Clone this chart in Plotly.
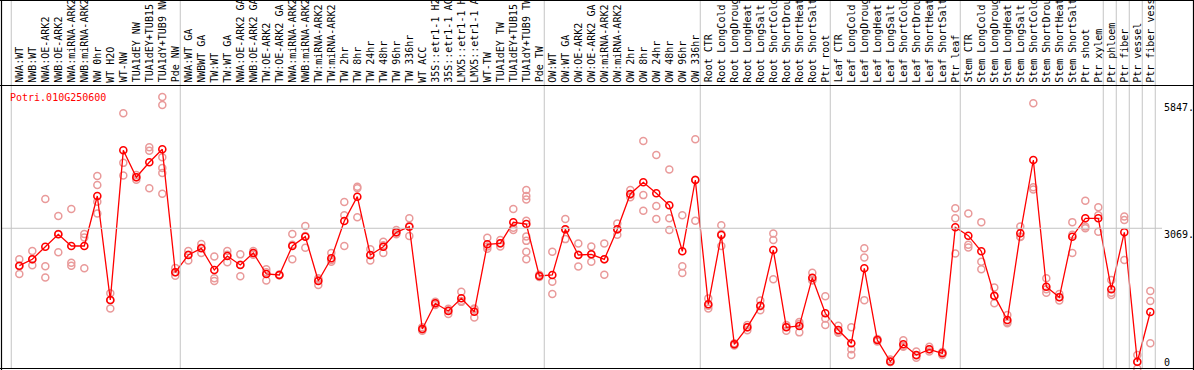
import plotly.graph_objects as go

# ---------------- data ----------------
gene_id = "Potri.010G250600"

categories = [
    "NWA:WT", "NWB:WT", "NWA:OE-ARK2", "NWB:OE-ARK2", "NWA:miRNA-ARK2", "NWB:miRNA-ARK2",
    "NW 0hr", "WT H2O", "WT-NW", "TUA1dEY NW", "TUA1dEY+TUB15 NW", "TUA1dY+TUB9 NW", "Pde NW",
    "NWA:WT GA", "NWBWT GA", "TW:WT", "TW:WT GA", "NWA:OE-ARK2 GA", "NWB:OE-ARK2 GA",
    "TW:OE-ARK2", "TW:OE-ARK2 GA", "NWA:miRNA-ARK2 GA", "NWB:miRNA-ARK2 GA", "TW:miRNA-ARK2",
    "TW:miRNA-ARK2 GA", "TW 2hr", "TW 8hr", "TW 24hr", "TW 48hr", "TW 96hr", "TW 336hr",
    "WT ACC", "35S::etr1-1 H2O", "35S::etr1-1 ACC", "LMX5::etr1-1 H2O", "LMX5::etr1-1 ACC",
    "WT-TW", "TUA1dEY TW", "TUA1dEY+TUB15 TW", "TUA1dY+TUB9 TW", "Pde TW",
    "OW:WT", "OW:WT GA", "OW:OE-ARK2", "OW:OE-ARK2 GA", "OW:miRNA-ARK2", "OW:miRNA-ARK2 GA",
    "OW 2hr", "OW 8hr", "OW 24hr", "OW 48hr", "OW 96hr", "OW 336hr",
    "Root CTR", "Root LongCold", "Root LongDrought", "Root LongHeat", "Root LongSalt",
    "Root ShortCold", "Root ShortDrought", "Root ShortHeat", "Root ShortSalt", "Ptr root",
    "Leaf CTR", "Leaf LongCold", "Leaf LongDrought", "Leaf LongHeat", "Leaf LongSalt",
    "Leaf ShortCold", "Leaf ShortDrought", "Leaf ShortHeat", "Leaf ShortSalt", "Ptr leaf",
    "Stem CTR", "Stem LongCold", "Stem LongDrought", "Stem LongHeat", "Stem LongSalt",
    "Stem ShortCold", "Stem ShortDrought", "Stem ShortHeat", "Stem ShortSalt", "Ptr shoot",
    "Ptr xylem", "Ptr phloem", "Ptr fiber", "Ptr vessel", "Ptr fiber vessel",
]

group_sizes = [13, 28, 12, 10, 10, 11, 1, 1, 1, 1]

mean_values = [
    2210, 2357, 2646, 2931, 2662, 2662, 3810, 1423, 4858, 4239, 4583, 4881, 2059,
    2456, 2609, 2111, 2433, 2226, 2502, 2020, 1997, 2662, 2876, 1859, 2380, 3236, 3794,
    2456, 2646, 2977, 3105, 757, 1347, 1170, 1462, 1154, 2701, 2724, 3206, 3167, 1974,
    1997, 3045, 2456, 2472, 2357, 3045, 3856, 4124, 3872, 3596, 2541, 4177,
    1324, 2915, 406, 796, 1292, 2570, 796, 826, 1935, 1118,
    734, 429, 2150, 505, 10, 406, 161, 291, 200, 3091,
    2899, 2541, 1522, 964, 2954, 4636, 1728, 1485, 2876, 3298, 3298,
    1668, 2977, 5, 1148,
]

replicates = [
    [2360, 2200, 2020], [2550, 2360, 2220], [3740, 2200, 1940], [3350, 2940, 2520],
    [3510, 2280, 2210], [2940, 2860, 2150], [4270, 4060, 3680, 3410], [1580, 1420, 1230],
    [5710, 4570, 4280], [4290, 4240, 4180], [4930, 4850, 3990],
    [6080, 5900, 4700, 4450, 4340, 3860], [2160, 2060, 1980],
    [2550, 2460, 2330], [2710, 2620, 2500], [2420, 1920, 1860], [2550, 2460, 2290],
    [2470, 2230, 1970], [2550, 2500, 2460], [2130, 2060, 1870], [2010, 1990, 1990],
    [2940, 2690, 2360], [3120, 2890, 2620], [1920, 1890, 1770], [2500, 2340, 2300],
    [3670, 3370, 2660], [4020, 3990, 3320], [2590, 2450, 2330], [2760, 2680, 2500],
    [3030, 2970, 2930], [3300, 3120, 2890], [800, 750, 720], [1380, 1350, 1310],
    [1220, 1190, 1100], [1610, 1400, 1380], [1230, 1210, 1020], [2850, 2650, 2600],
    [2800, 2720, 2650], [3510, 3080, 3030],
    [3950, 3810, 3730, 3240, 2880, 2780, 2530, 2360], [2000, 1970, 1950],
    [2530, 1840, 1560], [3280, 3040, 2820], [2720, 2460, 2190], [2650, 2470, 2300],
    [2720, 2360, 2000], [3180, 3040, 2920], [3950, 3840, 3780], [5070, 3830, 3470],
    [4750, 3580, 3280], [4420, 3300, 3030], [3370, 2200, 2040], [5110, 4180, 3240],
    [1460, 1290, 1230], [3140, 2940, 2660], [430, 400, 380], [850, 800, 730],
    [1410, 1280, 1190], [2950, 2800, 1900], [850, 810, 720], [920, 870, 680],
    [2050, 1880, 1870], [1510, 1000, 850],
    [830, 700, 670], [800, 290, 160], [2610, 2400, 1420], [530, 510, 470],
    [60, 0, 0], [500, 370, 350], [240, 150, 100], [350, 290, 240], [230, 210, 160],
    [3530, 3300, 2490],
    [3410, 2690, 2630], [3210, 2300, 2130], [1710, 1510, 1350], [1080, 920, 890],
    [3110, 2880, 2870], [5940, 4010, 3960], [1920, 1670, 1590], [1560, 1490, 1410],
    [3210, 2920, 2500], [3700, 3110, 3070], [3550, 3370, 2990],
    [1880, 1590, 1540], [3340, 3260, 2340], [160, 0, -150], [1630, 1400, 430],
]

y_tick_values = [0, 3069, 5847]
y_tick_labels = ["0", "3069.", "5847."]

# ---------------- styling / layout ----------------
W, H = 1194, 370
FONT = "DejaVu Sans Mono"
RED = "#FF0000"
PINK = "#E99A9A"
GRID = "#C4C4C4"


def px(xp):
    return xp / W


def py(yp):
    return 1 - yp / H


rep_x, rep_y = [], []
for cat, reps in zip(categories, replicates):
    for v in reps:
        rep_x.append(cat)
        rep_y.append(v)

fig = go.Figure()
fig.add_trace(go.Scatter(
    x=rep_x, y=rep_y, mode="markers",
    marker=dict(symbol="circle-open", size=7, color=PINK, line=dict(width=1.5, color=PINK)),
    hoverinfo="skip", showlegend=False,
))
fig.add_trace(go.Scatter(
    x=categories, y=mean_values, mode="lines+markers",
    line=dict(color=RED, width=1.3),
    marker=dict(symbol="circle-open", size=7, color=RED, line=dict(width=1.6, color=RED)),
    showlegend=False,
))

shapes = []
# group separator lines (vertical, light gray)
pos = -1
bounds = [pos]
for g in group_sizes:
    pos += g
    bounds.append(pos)
for b in bounds:
    xb = b + 0.38
    shapes.append(dict(type="line", xref="x", yref="paper", x0=xb, x1=xb,
                       y0=py(368), y1=1, line=dict(color=GRID, width=1)))
# horizontal gridline at middle tick
shapes.append(dict(type="line", xref="paper", yref="y", x0=px(2), x1=px(1162),
                   y0=y_tick_values[1], y1=y_tick_values[1], line=dict(color=GRID, width=1)))
# black frame and label separator
for (x0, y0, x1, y1) in [(1.5, 0, 1.5, 370), (0, 368.5, 1194, 368.5),
                         (1193.5, 0, 1193.5, 370), (0, 0.5, 1194, 0.5),
                         (0, 85.5, 1194, 85.5)]:
    shapes.append(dict(type="line", xref="paper", yref="paper",
                       x0=px(x0), x1=px(x1), y0=py(y0), y1=py(y1),
                       line=dict(color="black", width=1.2)))

annotations = []
for cat in categories:
    annotations.append(dict(
        x=cat, xref="x", y=py(83.5), yref="paper", text=cat, showarrow=False,
        textangle=-90, xanchor="center", yanchor="bottom", borderpad=0,
        font=dict(family=FONT, size=10, color="black"),
    ))
annotations.append(dict(
    x=px(9), xref="paper", y=py(97), yref="paper", text=gene_id, showarrow=False,
    xanchor="left", yanchor="middle", borderpad=0,
    font=dict(family=FONT, size=10, color=RED),
))
tick_anchors = ["middle", "top", "middle"]
for v, t, a in zip(y_tick_values, y_tick_labels, tick_anchors):
    annotations.append(dict(
        x=px(1163), xref="paper", y=v, yref="y", text=t, showarrow=False,
        xanchor="left", yanchor=a, borderpad=0,
        font=dict(family=FONT, size=10, color="black"),
    ))

fig.update_layout(
    width=W, height=H,
    margin=dict(l=0, r=0, t=0, b=0),
    paper_bgcolor="white", plot_bgcolor="white",
    xaxis=dict(type="category", categoryorder="array", categoryarray=categories,
               range=[-1.485, 90.36], visible=False, fixedrange=True),
    yaxis=dict(range=[-183.6, 8307.9], visible=False, fixedrange=True),
    shapes=shapes, annotations=annotations,
    showlegend=False,
)

fig.write_html(
    "out.html",
    config={"displayModeBar": False},
    post_script="document.body.style.margin='0';document.body.style.overflow='hidden';",
)
